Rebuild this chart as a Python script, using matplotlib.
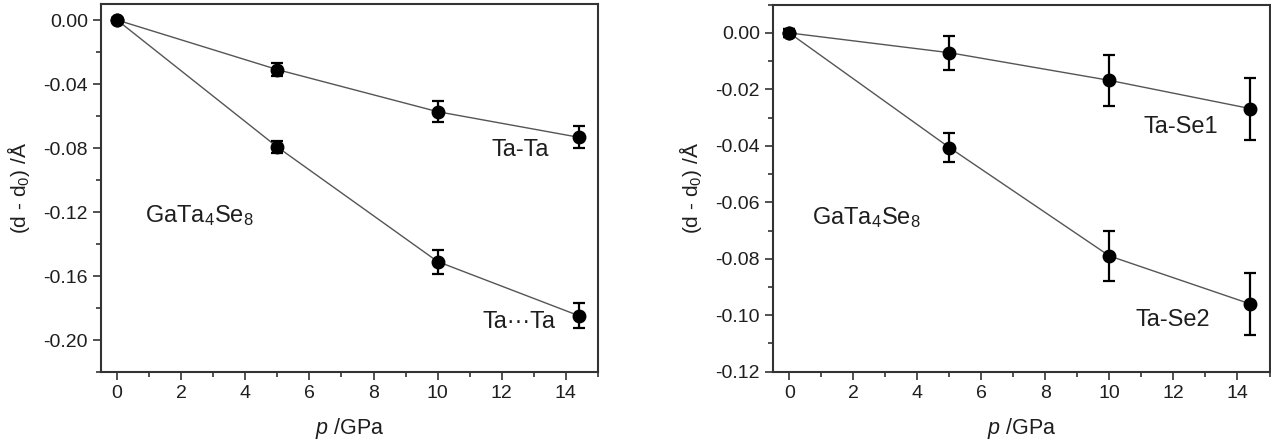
import matplotlib
matplotlib.use("Agg")
import matplotlib.pyplot as plt
from matplotlib.ticker import MultipleLocator, FuncFormatter

plt.rcParams['font.family'] = ['Liberation Sans', 'DejaVu Sans']
plt.rcParams['mathtext.fontset'] = 'custom'
plt.rcParams['mathtext.rm'] = 'Liberation Sans'
plt.rcParams['mathtext.it'] = 'Liberation Sans:italic'

pressure = [0, 5, 10, 14.4]

# Ta-Ta and Ta...Ta distance changes (Å)
ta_ta = [0.0, -0.031, -0.0573, -0.0733]
ta_ta_err = [0.0015, 0.004, 0.0066, 0.0068]
ta_ta_long = [0.0, -0.0794, -0.151, -0.1848]
ta_ta_long_err = [0.0015, 0.004, 0.0075, 0.008]

# Ta-Se1 and Ta-Se2 distance changes (Å)
ta_se1 = [0.0, -0.007, -0.0168, -0.0268]
ta_se1_err = [0.0015, 0.006, 0.009, 0.011]
ta_se2 = [0.0, -0.0406, -0.079, -0.096]
ta_se2_err = [0.0015, 0.005, 0.009, 0.011]

W, H = 1271, 443
fig = plt.figure(figsize=(W / 100, H / 100), dpi=100)

ax1 = fig.add_axes([101 / W, 1 - 372 / H, (598 - 101) / W, (372 - 4) / H])
ax2 = fig.add_axes([773.3 / W, 1 - 371.7 / H, (1269.5 - 773.3) / W, (371.7 - 4.7) / H])

spine_col = '#333333'
line_col = '#555555'
text_col = '#1e1e1e'


def fmt2(v, pos):
    s = '%.2f' % v
    return '0.00' if s == '-0.00' else s


def draw_series(ax, y, yerr):
    ax.plot(pressure, y, '-', color=line_col, lw=1.0, zorder=2)
    ax.errorbar(pressure, y, yerr=yerr, fmt='o', color='black', ms=9,
                ecolor='black', elinewidth=1.6, capsize=4, capthick=1.6, zorder=3)


def style(ax, ylim, ymajor, yminor):
    ax.set_xlim(-0.5, 15)
    ax.set_ylim(*ylim)
    ax.xaxis.set_major_locator(MultipleLocator(2))
    ax.xaxis.set_minor_locator(MultipleLocator(1))
    ax.yaxis.set_major_locator(MultipleLocator(ymajor))
    ax.yaxis.set_minor_locator(MultipleLocator(yminor))
    ax.yaxis.set_major_formatter(FuncFormatter(fmt2))
    ax.tick_params(which='both', direction='out', colors=spine_col,
                   labelcolor=text_col, labelsize=14, width=1.2)
    ax.tick_params(which='major', length=6)
    ax.tick_params(which='minor', length=3.5)
    ax.tick_params(top=False, right=False)
    for s in ax.spines.values():
        s.set_color(spine_col)
        s.set_linewidth(1.5)
    ax.set_xlabel('$p$ /GPa', fontsize=15.5, labelpad=10, color=text_col)
    ax.set_ylabel('(d - d$_0$) /Å', fontsize=15, labelpad=8, color=text_col)


draw_series(ax1, ta_ta, ta_ta_err)
draw_series(ax1, ta_ta_long, ta_ta_long_err)
style(ax1, (-0.22, 0.01), 0.04, 0.02)
ax1.text(0.87, -0.122, 'GaTa$_4$Se$_8$', fontsize=17, va='center', ha='left', color=text_col)
ax1.text(11.68, -0.081, 'Ta-Ta', fontsize=17, va='center', ha='left', color=text_col)
ax1.text(11.4, -0.189, 'Ta···Ta', fontsize=17, va='center', ha='left', color=text_col)

draw_series(ax2, ta_se1, ta_se1_err)
draw_series(ax2, ta_se2, ta_se2_err)
style(ax2, (-0.12, 0.01), 0.02, 0.01)
ax2.text(0.7, -0.0655, 'GaTa$_4$Se$_8$', fontsize=17, va='center', ha='left', color=text_col)
ax2.text(11.05, -0.0333, 'Ta-Se1', fontsize=17, va='center', ha='left', color=text_col)
ax2.text(10.8, -0.1017, 'Ta-Se2', fontsize=17, va='center', ha='left', color=text_col)

fig.savefig('out.png', dpi=100)
